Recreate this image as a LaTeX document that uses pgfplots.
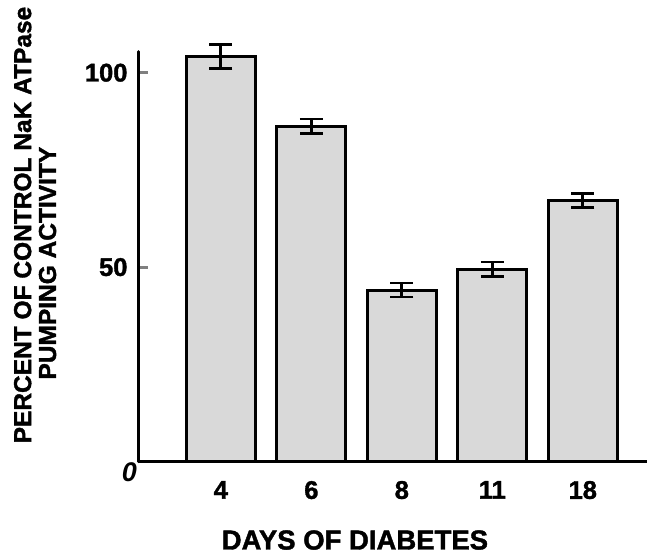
\documentclass[border=0pt]{standalone}
\usepackage{pgfplots}
\pgfplotsset{compat=1.18}
\usepackage{fontspec}
\setmainfont{Liberation Sans}[BoldFeatures={FakeBold=1.5}]
\begin{document}
\begin{tikzpicture}
\path[use as bounding box] (-139pt,-96.5pt) rectangle (508pt,461.5pt);
\begin{axis}[
  scale only axis,
  width=508pt, height=409.8pt,
  xmin=-0.905, xmax=4.71,
  ymin=0, ymax=105.4,
  axis lines=left,
  axis line style={-, line width=3pt, line cap=round},
  clip=false,
  font=\fontsize{24.5}{28}\selectfont\bfseries,
  /pgf/number format/assume math mode=true,
  xtick={0,1,2,3,4},
  xticklabels={4,6,8,11,18},
  x tick style={draw=none},
  xticklabel style={yshift=-16pt, font=\fontsize{25.5}{28}\selectfont\bfseries},
  ytick={50,100},
  y tick style={line width=3pt},
  tick align=inside,
  major tick length=9pt,
  yticklabel style={xshift=-8pt, font=\fontsize{25.5}{28}\selectfont\bfseries},
  xlabel={DAYS OF DIABETES},
  xlabel style={at={(axis description cs:0.425,-0.1916)}, anchor=center, font=\fontsize{27.5}{30}\selectfont\bfseries},
]
\addplot[ybar, bar width=69pt, fill=black!15, draw=black, line width=3pt,
  error bars/.cd, y dir=both, y explicit,
  error bar style={line width=2.8pt},
  error mark options={rotate=90, line width=2.8pt, mark size=11.5pt}]
  coordinates {
  (0,104.2) +- (0,3.1)
  (1,86.2) +- (0,1.9)
  (2,44.1) +- (0,1.8)
  (3,49.4) +- (0,1.9)
  (4,67.2) +- (0,1.8)
  };
\node[anchor=north east, inner sep=0pt, font=\fontsize{27}{28}\selectfont\bfseries\itshape] at (rel axis cs:0,0) [xshift=-2pt, yshift=-1pt] {0};
\node[rotate=90, anchor=center] at (rel axis cs:-0.229,0.577) {PERCENT OF CONTROL NaK ATPase};
\node[rotate=90, anchor=center] at (rel axis cs:-0.180,0.484) {PUMPING ACTIVITY};
\end{axis}
\end{tikzpicture}
\end{document}
